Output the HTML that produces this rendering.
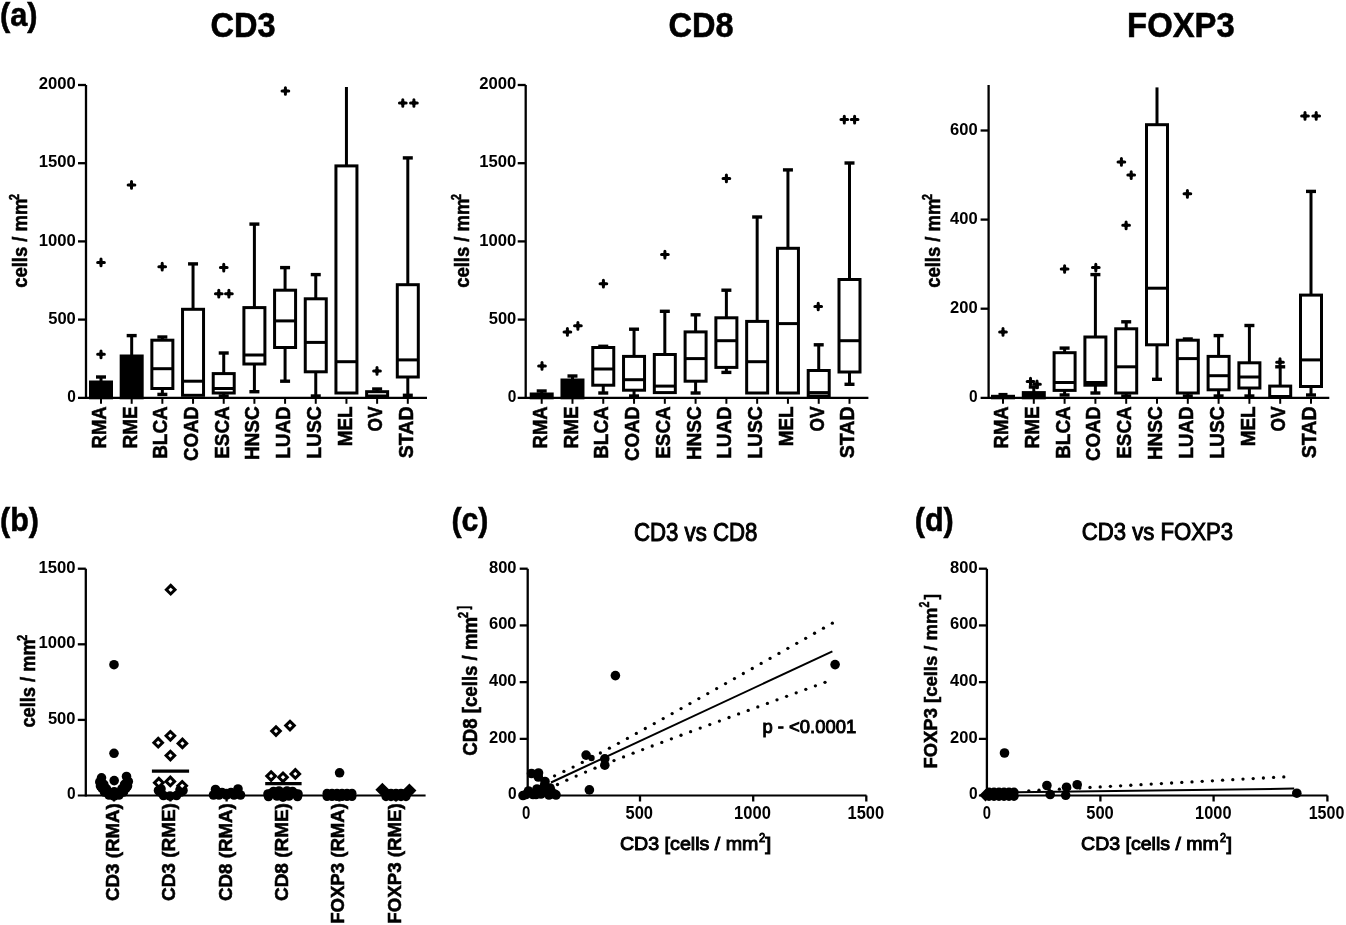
<!DOCTYPE html>
<html><head><meta charset="utf-8"><style>
html,body{margin:0;padding:0;background:#fff;}
svg{display:block;}
#wrap{will-change:transform;width:1346px;height:925px;overflow:hidden;}
text{font-family:"Liberation Sans", sans-serif;fill:#000;stroke:#000;stroke-width:0.55px;}
</style></head><body>
<div id="wrap"><svg width="1346" height="925" viewBox="0 0 1346 925">
<rect width="1346" height="925" fill="#fff"/>
<g stroke="#000" fill="none" stroke-linecap="butt">
<line x1="86.00" y1="85.00" x2="86.00" y2="398.80" stroke-width="2.3"/>
<line x1="78.00" y1="397.80" x2="427.00" y2="397.80" stroke-width="2.2"/>
<line x1="78.00" y1="85.00" x2="86.00" y2="85.00" stroke-width="2.3"/>
<line x1="78.00" y1="163.20" x2="86.00" y2="163.20" stroke-width="2.3"/>
<line x1="78.00" y1="241.40" x2="86.00" y2="241.40" stroke-width="2.3"/>
<line x1="78.00" y1="319.60" x2="86.00" y2="319.60" stroke-width="2.3"/>
<line x1="101.00" y1="397.80" x2="101.00" y2="403.80" stroke-width="2.0"/>
<line x1="131.68" y1="397.80" x2="131.68" y2="403.80" stroke-width="2.0"/>
<line x1="162.36" y1="397.80" x2="162.36" y2="403.80" stroke-width="2.0"/>
<line x1="193.04" y1="397.80" x2="193.04" y2="403.80" stroke-width="2.0"/>
<line x1="223.72" y1="397.80" x2="223.72" y2="403.80" stroke-width="2.0"/>
<line x1="254.40" y1="397.80" x2="254.40" y2="403.80" stroke-width="2.0"/>
<line x1="285.08" y1="397.80" x2="285.08" y2="403.80" stroke-width="2.0"/>
<line x1="315.76" y1="397.80" x2="315.76" y2="403.80" stroke-width="2.0"/>
<line x1="346.44" y1="397.80" x2="346.44" y2="403.80" stroke-width="2.0"/>
<line x1="377.12" y1="397.80" x2="377.12" y2="403.80" stroke-width="2.0"/>
<line x1="407.80" y1="397.80" x2="407.80" y2="403.80" stroke-width="2.0"/>
<line x1="101.00" y1="377.00" x2="101.00" y2="382.00" stroke-width="3.0"/>
<line x1="96.00" y1="377.00" x2="106.00" y2="377.00" stroke-width="3.4"/>
<rect x="90.50" y="382.00" width="21.00" height="15.80" fill="#000" stroke-width="3.0"/>
<path d="M97.65 262.40H104.35M101.00 259.05V265.75" stroke-width="3.0" stroke-linecap="round"/><circle cx="101.00" cy="262.40" r="2.2" fill="#000" stroke="none"/>
<path d="M97.65 354.30H104.35M101.00 350.95V357.65" stroke-width="3.0" stroke-linecap="round"/><circle cx="101.00" cy="354.30" r="2.2" fill="#000" stroke="none"/>
<line x1="131.68" y1="335.60" x2="131.68" y2="356.00" stroke-width="3.0"/>
<line x1="126.68" y1="335.60" x2="136.68" y2="335.60" stroke-width="3.4"/>
<rect x="121.18" y="356.00" width="21.00" height="41.80" fill="#000" stroke-width="3.0"/>
<path d="M128.15 184.90H134.85M131.50 181.55V188.25" stroke-width="3.0" stroke-linecap="round"/><circle cx="131.50" cy="184.90" r="2.2" fill="#000" stroke="none"/>
<line x1="162.36" y1="337.00" x2="162.36" y2="340.20" stroke-width="3.0"/>
<line x1="157.36" y1="337.00" x2="167.36" y2="337.00" stroke-width="3.4"/>
<line x1="162.36" y1="388.50" x2="162.36" y2="394.40" stroke-width="3.0"/>
<line x1="157.36" y1="394.40" x2="167.36" y2="394.40" stroke-width="3.4"/>
<rect x="151.86" y="340.20" width="21.00" height="48.30" fill="none" stroke-width="3.0"/>
<line x1="151.86" y1="368.70" x2="172.86" y2="368.70" stroke-width="3.0"/>
<path d="M158.85 266.70H165.55M162.20 263.35V270.05" stroke-width="3.0" stroke-linecap="round"/><circle cx="162.20" cy="266.70" r="2.2" fill="#000" stroke="none"/>
<line x1="193.04" y1="263.90" x2="193.04" y2="309.30" stroke-width="3.0"/>
<line x1="188.04" y1="263.90" x2="198.04" y2="263.90" stroke-width="3.4"/>
<rect x="182.54" y="309.30" width="21.00" height="86.00" fill="none" stroke-width="3.0"/>
<line x1="182.54" y1="381.20" x2="203.54" y2="381.20" stroke-width="3.0"/>
<line x1="223.72" y1="353.00" x2="223.72" y2="373.60" stroke-width="3.0"/>
<line x1="218.72" y1="353.00" x2="228.72" y2="353.00" stroke-width="3.4"/>
<line x1="223.72" y1="393.00" x2="223.72" y2="396.00" stroke-width="3.0"/>
<line x1="218.72" y1="396.00" x2="228.72" y2="396.00" stroke-width="3.4"/>
<rect x="213.22" y="373.60" width="21.00" height="19.40" fill="none" stroke-width="3.0"/>
<line x1="213.22" y1="388.50" x2="234.22" y2="388.50" stroke-width="3.0"/>
<path d="M220.40 267.60H227.10M223.75 264.25V270.95" stroke-width="3.0" stroke-linecap="round"/><circle cx="223.75" cy="267.60" r="2.2" fill="#000" stroke="none"/>
<path d="M215.45 293.70H222.15M218.80 290.35V297.05" stroke-width="3.0" stroke-linecap="round"/><circle cx="218.80" cy="293.70" r="2.2" fill="#000" stroke="none"/>
<path d="M225.55 293.70H232.25M228.90 290.35V297.05" stroke-width="3.0" stroke-linecap="round"/><circle cx="228.90" cy="293.70" r="2.2" fill="#000" stroke="none"/>
<line x1="254.40" y1="224.10" x2="254.40" y2="307.60" stroke-width="3.0"/>
<line x1="249.40" y1="224.10" x2="259.40" y2="224.10" stroke-width="3.4"/>
<line x1="254.40" y1="364.00" x2="254.40" y2="391.70" stroke-width="3.0"/>
<line x1="249.40" y1="391.70" x2="259.40" y2="391.70" stroke-width="3.4"/>
<rect x="243.90" y="307.60" width="21.00" height="56.40" fill="none" stroke-width="3.0"/>
<line x1="243.90" y1="355.00" x2="264.90" y2="355.00" stroke-width="3.0"/>
<line x1="285.08" y1="267.60" x2="285.08" y2="290.20" stroke-width="3.0"/>
<line x1="280.08" y1="267.60" x2="290.08" y2="267.60" stroke-width="3.4"/>
<line x1="285.08" y1="347.50" x2="285.08" y2="381.20" stroke-width="3.0"/>
<line x1="280.08" y1="381.20" x2="290.08" y2="381.20" stroke-width="3.4"/>
<rect x="274.58" y="290.20" width="21.00" height="57.30" fill="none" stroke-width="3.0"/>
<line x1="274.58" y1="320.90" x2="295.58" y2="320.90" stroke-width="3.0"/>
<path d="M282.05 91.00H288.75M285.40 87.65V94.35" stroke-width="3.0" stroke-linecap="round"/><circle cx="285.40" cy="91.00" r="2.2" fill="#000" stroke="none"/>
<line x1="315.76" y1="274.60" x2="315.76" y2="298.80" stroke-width="3.0"/>
<line x1="310.76" y1="274.60" x2="320.76" y2="274.60" stroke-width="3.4"/>
<line x1="315.76" y1="371.80" x2="315.76" y2="396.00" stroke-width="3.0"/>
<line x1="310.76" y1="396.00" x2="320.76" y2="396.00" stroke-width="3.4"/>
<rect x="305.26" y="298.80" width="21.00" height="73.00" fill="none" stroke-width="3.0"/>
<line x1="305.26" y1="342.40" x2="326.26" y2="342.40" stroke-width="3.0"/>
<line x1="346.44" y1="87.00" x2="346.44" y2="165.90" stroke-width="3.0"/>
<rect x="335.94" y="165.90" width="21.00" height="227.10" fill="none" stroke-width="3.0"/>
<line x1="335.94" y1="361.70" x2="356.94" y2="361.70" stroke-width="3.0"/>
<line x1="377.12" y1="389.00" x2="377.12" y2="391.70" stroke-width="3.0"/>
<line x1="372.12" y1="389.00" x2="382.12" y2="389.00" stroke-width="3.4"/>
<rect x="366.62" y="391.70" width="21.00" height="4.30" fill="none" stroke-width="3.0"/>
<path d="M373.65 370.90H380.35M377.00 367.55V374.25" stroke-width="3.0" stroke-linecap="round"/><circle cx="377.00" cy="370.90" r="2.2" fill="#000" stroke="none"/>
<line x1="407.80" y1="157.90" x2="407.80" y2="284.70" stroke-width="3.0"/>
<line x1="402.80" y1="157.90" x2="412.80" y2="157.90" stroke-width="3.4"/>
<line x1="407.80" y1="377.00" x2="407.80" y2="395.30" stroke-width="3.0"/>
<line x1="402.80" y1="395.30" x2="412.80" y2="395.30" stroke-width="3.4"/>
<rect x="397.30" y="284.70" width="21.00" height="92.30" fill="none" stroke-width="3.0"/>
<line x1="397.30" y1="359.90" x2="418.30" y2="359.90" stroke-width="3.0"/>
<path d="M399.45 103.00H406.15M402.80 99.65V106.35" stroke-width="3.0" stroke-linecap="round"/><circle cx="402.80" cy="103.00" r="2.2" fill="#000" stroke="none"/>
<path d="M410.55 103.00H417.25M413.90 99.65V106.35" stroke-width="3.0" stroke-linecap="round"/><circle cx="413.90" cy="103.00" r="2.2" fill="#000" stroke="none"/>
<line x1="525.70" y1="85.00" x2="525.70" y2="398.80" stroke-width="2.3"/>
<line x1="517.70" y1="397.80" x2="868.40" y2="397.80" stroke-width="2.2"/>
<line x1="517.70" y1="85.00" x2="525.70" y2="85.00" stroke-width="2.3"/>
<line x1="517.70" y1="163.20" x2="525.70" y2="163.20" stroke-width="2.3"/>
<line x1="517.70" y1="241.40" x2="525.70" y2="241.40" stroke-width="2.3"/>
<line x1="517.70" y1="319.60" x2="525.70" y2="319.60" stroke-width="2.3"/>
<line x1="541.70" y1="397.80" x2="541.70" y2="403.80" stroke-width="2.0"/>
<line x1="572.48" y1="397.80" x2="572.48" y2="403.80" stroke-width="2.0"/>
<line x1="603.26" y1="397.80" x2="603.26" y2="403.80" stroke-width="2.0"/>
<line x1="634.04" y1="397.80" x2="634.04" y2="403.80" stroke-width="2.0"/>
<line x1="664.82" y1="397.80" x2="664.82" y2="403.80" stroke-width="2.0"/>
<line x1="695.60" y1="397.80" x2="695.60" y2="403.80" stroke-width="2.0"/>
<line x1="726.38" y1="397.80" x2="726.38" y2="403.80" stroke-width="2.0"/>
<line x1="757.16" y1="397.80" x2="757.16" y2="403.80" stroke-width="2.0"/>
<line x1="787.94" y1="397.80" x2="787.94" y2="403.80" stroke-width="2.0"/>
<line x1="818.72" y1="397.80" x2="818.72" y2="403.80" stroke-width="2.0"/>
<line x1="849.50" y1="397.80" x2="849.50" y2="403.80" stroke-width="2.0"/>
<line x1="541.70" y1="391.00" x2="541.70" y2="394.00" stroke-width="3.0"/>
<line x1="536.70" y1="391.00" x2="546.70" y2="391.00" stroke-width="3.4"/>
<rect x="531.20" y="394.00" width="21.00" height="3.80" fill="#000" stroke-width="3.0"/>
<path d="M538.65 365.90H545.35M542.00 362.55V369.25" stroke-width="3.0" stroke-linecap="round"/><circle cx="542.00" cy="365.90" r="2.2" fill="#000" stroke="none"/>
<line x1="572.48" y1="376.00" x2="572.48" y2="380.00" stroke-width="3.0"/>
<line x1="567.48" y1="376.00" x2="577.48" y2="376.00" stroke-width="3.4"/>
<rect x="561.98" y="380.00" width="21.00" height="17.80" fill="#000" stroke-width="3.0"/>
<path d="M564.05 331.90H570.75M567.40 328.55V335.25" stroke-width="3.0" stroke-linecap="round"/><circle cx="567.40" cy="331.90" r="2.2" fill="#000" stroke="none"/>
<path d="M574.55 325.80H581.25M577.90 322.45V329.15" stroke-width="3.0" stroke-linecap="round"/><circle cx="577.90" cy="325.80" r="2.2" fill="#000" stroke="none"/>
<line x1="603.26" y1="346.30" x2="603.26" y2="347.50" stroke-width="3.0"/>
<line x1="598.26" y1="346.30" x2="608.26" y2="346.30" stroke-width="3.4"/>
<line x1="603.26" y1="385.20" x2="603.26" y2="393.00" stroke-width="3.0"/>
<line x1="598.26" y1="393.00" x2="608.26" y2="393.00" stroke-width="3.4"/>
<rect x="592.76" y="347.50" width="21.00" height="37.70" fill="none" stroke-width="3.0"/>
<line x1="592.76" y1="369.00" x2="613.76" y2="369.00" stroke-width="3.0"/>
<path d="M600.05 283.70H606.75M603.40 280.35V287.05" stroke-width="3.0" stroke-linecap="round"/><circle cx="603.40" cy="283.70" r="2.2" fill="#000" stroke="none"/>
<line x1="634.04" y1="329.20" x2="634.04" y2="356.40" stroke-width="3.0"/>
<line x1="629.04" y1="329.20" x2="639.04" y2="329.20" stroke-width="3.4"/>
<line x1="634.04" y1="390.20" x2="634.04" y2="396.00" stroke-width="3.0"/>
<line x1="629.04" y1="396.00" x2="639.04" y2="396.00" stroke-width="3.4"/>
<rect x="623.54" y="356.40" width="21.00" height="33.80" fill="none" stroke-width="3.0"/>
<line x1="623.54" y1="379.70" x2="644.54" y2="379.70" stroke-width="3.0"/>
<line x1="664.82" y1="311.30" x2="664.82" y2="354.50" stroke-width="3.0"/>
<line x1="659.82" y1="311.30" x2="669.82" y2="311.30" stroke-width="3.4"/>
<rect x="654.32" y="354.50" width="21.00" height="38.10" fill="none" stroke-width="3.0"/>
<line x1="654.32" y1="386.10" x2="675.32" y2="386.10" stroke-width="3.0"/>
<path d="M661.55 254.60H668.25M664.90 251.25V257.95" stroke-width="3.0" stroke-linecap="round"/><circle cx="664.90" cy="254.60" r="2.2" fill="#000" stroke="none"/>
<line x1="695.60" y1="314.80" x2="695.60" y2="331.90" stroke-width="3.0"/>
<line x1="690.60" y1="314.80" x2="700.60" y2="314.80" stroke-width="3.4"/>
<line x1="695.60" y1="381.20" x2="695.60" y2="393.00" stroke-width="3.0"/>
<line x1="690.60" y1="393.00" x2="700.60" y2="393.00" stroke-width="3.4"/>
<rect x="685.10" y="331.90" width="21.00" height="49.30" fill="none" stroke-width="3.0"/>
<line x1="685.10" y1="358.60" x2="706.10" y2="358.60" stroke-width="3.0"/>
<line x1="726.38" y1="290.20" x2="726.38" y2="317.80" stroke-width="3.0"/>
<line x1="721.38" y1="290.20" x2="731.38" y2="290.20" stroke-width="3.4"/>
<line x1="726.38" y1="367.40" x2="726.38" y2="372.40" stroke-width="3.0"/>
<line x1="721.38" y1="372.40" x2="731.38" y2="372.40" stroke-width="3.4"/>
<rect x="715.88" y="317.80" width="21.00" height="49.60" fill="none" stroke-width="3.0"/>
<line x1="715.88" y1="340.70" x2="736.88" y2="340.70" stroke-width="3.0"/>
<path d="M723.05 178.40H729.75M726.40 175.05V181.75" stroke-width="3.0" stroke-linecap="round"/><circle cx="726.40" cy="178.40" r="2.2" fill="#000" stroke="none"/>
<line x1="757.16" y1="217.00" x2="757.16" y2="321.40" stroke-width="3.0"/>
<line x1="752.16" y1="217.00" x2="762.16" y2="217.00" stroke-width="3.4"/>
<rect x="746.66" y="321.40" width="21.00" height="71.60" fill="none" stroke-width="3.0"/>
<line x1="746.66" y1="361.70" x2="767.66" y2="361.70" stroke-width="3.0"/>
<line x1="787.94" y1="169.90" x2="787.94" y2="248.30" stroke-width="3.0"/>
<line x1="782.94" y1="169.90" x2="792.94" y2="169.90" stroke-width="3.4"/>
<rect x="777.44" y="248.30" width="21.00" height="144.70" fill="none" stroke-width="3.0"/>
<line x1="777.44" y1="323.60" x2="798.44" y2="323.60" stroke-width="3.0"/>
<line x1="818.72" y1="344.80" x2="818.72" y2="370.50" stroke-width="3.0"/>
<line x1="813.72" y1="344.80" x2="823.72" y2="344.80" stroke-width="3.4"/>
<rect x="808.22" y="370.50" width="21.00" height="25.50" fill="none" stroke-width="3.0"/>
<line x1="808.22" y1="392.60" x2="829.22" y2="392.60" stroke-width="3.0"/>
<path d="M814.85 306.50H821.55M818.20 303.15V309.85" stroke-width="3.0" stroke-linecap="round"/><circle cx="818.20" cy="306.50" r="2.2" fill="#000" stroke="none"/>
<line x1="849.50" y1="163.00" x2="849.50" y2="279.50" stroke-width="3.0"/>
<line x1="844.50" y1="163.00" x2="854.50" y2="163.00" stroke-width="3.4"/>
<line x1="849.50" y1="372.00" x2="849.50" y2="384.30" stroke-width="3.0"/>
<line x1="844.50" y1="384.30" x2="854.50" y2="384.30" stroke-width="3.4"/>
<rect x="839.00" y="279.50" width="21.00" height="92.50" fill="none" stroke-width="3.0"/>
<line x1="839.00" y1="340.70" x2="860.00" y2="340.70" stroke-width="3.0"/>
<path d="M840.95 119.60H847.65M844.30 116.25V122.95" stroke-width="3.0" stroke-linecap="round"/><circle cx="844.30" cy="119.60" r="2.2" fill="#000" stroke="none"/>
<path d="M851.25 119.60H857.95M854.60 116.25V122.95" stroke-width="3.0" stroke-linecap="round"/><circle cx="854.60" cy="119.60" r="2.2" fill="#000" stroke="none"/>
<line x1="988.60" y1="85.00" x2="988.60" y2="398.80" stroke-width="2.3"/>
<line x1="980.60" y1="397.80" x2="1329.30" y2="397.80" stroke-width="2.2"/>
<line x1="980.60" y1="130.50" x2="988.60" y2="130.50" stroke-width="2.3"/>
<line x1="980.60" y1="219.60" x2="988.60" y2="219.60" stroke-width="2.3"/>
<line x1="980.60" y1="308.70" x2="988.60" y2="308.70" stroke-width="2.3"/>
<line x1="1003.00" y1="397.80" x2="1003.00" y2="403.80" stroke-width="2.0"/>
<line x1="1033.80" y1="397.80" x2="1033.80" y2="403.80" stroke-width="2.0"/>
<line x1="1064.60" y1="397.80" x2="1064.60" y2="403.80" stroke-width="2.0"/>
<line x1="1095.40" y1="397.80" x2="1095.40" y2="403.80" stroke-width="2.0"/>
<line x1="1126.20" y1="397.80" x2="1126.20" y2="403.80" stroke-width="2.0"/>
<line x1="1157.00" y1="397.80" x2="1157.00" y2="403.80" stroke-width="2.0"/>
<line x1="1187.80" y1="397.80" x2="1187.80" y2="403.80" stroke-width="2.0"/>
<line x1="1218.60" y1="397.80" x2="1218.60" y2="403.80" stroke-width="2.0"/>
<line x1="1249.40" y1="397.80" x2="1249.40" y2="403.80" stroke-width="2.0"/>
<line x1="1280.20" y1="397.80" x2="1280.20" y2="403.80" stroke-width="2.0"/>
<line x1="1311.00" y1="397.80" x2="1311.00" y2="403.80" stroke-width="2.0"/>
<line x1="1003.00" y1="394.60" x2="1003.00" y2="396.30" stroke-width="3.0"/>
<line x1="998.50" y1="394.60" x2="1007.50" y2="394.60" stroke-width="3.4"/>
<rect x="992.50" y="396.30" width="21.00" height="1.50" fill="#000" stroke-width="3.0"/>
<path d="M999.65 331.90H1006.35M1003.00 328.55V335.25" stroke-width="3.0" stroke-linecap="round"/><circle cx="1003.00" cy="331.90" r="2.2" fill="#000" stroke="none"/>
<line x1="1033.80" y1="387.00" x2="1033.80" y2="392.60" stroke-width="3.0"/>
<line x1="1028.80" y1="387.00" x2="1038.80" y2="387.00" stroke-width="3.4"/>
<rect x="1023.30" y="392.60" width="21.00" height="5.20" fill="#000" stroke-width="3.0"/>
<path d="M1027.15 381.50H1033.85M1030.50 378.15V384.85" stroke-width="3.0" stroke-linecap="round"/><circle cx="1030.50" cy="381.50" r="2.2" fill="#000" stroke="none"/>
<path d="M1033.65 384.30H1040.35M1037.00 380.95V387.65" stroke-width="3.0" stroke-linecap="round"/><circle cx="1037.00" cy="384.30" r="2.2" fill="#000" stroke="none"/>
<line x1="1064.60" y1="348.10" x2="1064.60" y2="352.70" stroke-width="3.0"/>
<line x1="1059.60" y1="348.10" x2="1069.60" y2="348.10" stroke-width="3.4"/>
<line x1="1064.60" y1="390.40" x2="1064.60" y2="395.00" stroke-width="3.0"/>
<line x1="1059.60" y1="395.00" x2="1069.60" y2="395.00" stroke-width="3.4"/>
<rect x="1054.10" y="352.70" width="21.00" height="37.70" fill="none" stroke-width="3.0"/>
<line x1="1054.10" y1="382.50" x2="1075.10" y2="382.50" stroke-width="3.0"/>
<path d="M1061.25 269.00H1067.95M1064.60 265.65V272.35" stroke-width="3.0" stroke-linecap="round"/><circle cx="1064.60" cy="269.00" r="2.2" fill="#000" stroke="none"/>
<line x1="1095.40" y1="274.60" x2="1095.40" y2="337.00" stroke-width="3.0"/>
<line x1="1090.40" y1="274.60" x2="1100.40" y2="274.60" stroke-width="3.4"/>
<line x1="1095.40" y1="385.20" x2="1095.40" y2="393.00" stroke-width="3.0"/>
<line x1="1090.40" y1="393.00" x2="1100.40" y2="393.00" stroke-width="3.4"/>
<rect x="1084.90" y="337.00" width="21.00" height="48.20" fill="none" stroke-width="3.0"/>
<line x1="1084.90" y1="382.50" x2="1105.90" y2="382.50" stroke-width="3.0"/>
<path d="M1092.45 267.60H1099.15M1095.80 264.25V270.95" stroke-width="3.0" stroke-linecap="round"/><circle cx="1095.80" cy="267.60" r="2.2" fill="#000" stroke="none"/>
<line x1="1126.20" y1="321.80" x2="1126.20" y2="328.80" stroke-width="3.0"/>
<line x1="1121.20" y1="321.80" x2="1131.20" y2="321.80" stroke-width="3.4"/>
<line x1="1126.20" y1="393.00" x2="1126.20" y2="396.00" stroke-width="3.0"/>
<line x1="1121.20" y1="396.00" x2="1131.20" y2="396.00" stroke-width="3.4"/>
<rect x="1115.70" y="328.80" width="21.00" height="64.20" fill="none" stroke-width="3.0"/>
<line x1="1115.70" y1="366.80" x2="1136.70" y2="366.80" stroke-width="3.0"/>
<path d="M1118.05 161.90H1124.75M1121.40 158.55V165.25" stroke-width="3.0" stroke-linecap="round"/><circle cx="1121.40" cy="161.90" r="2.2" fill="#000" stroke="none"/>
<path d="M1127.85 175.10H1134.55M1131.20 171.75V178.45" stroke-width="3.0" stroke-linecap="round"/><circle cx="1131.20" cy="175.10" r="2.2" fill="#000" stroke="none"/>
<path d="M1122.75 225.30H1129.45M1126.10 221.95V228.65" stroke-width="3.0" stroke-linecap="round"/><circle cx="1126.10" cy="225.30" r="2.2" fill="#000" stroke="none"/>
<line x1="1157.00" y1="87.40" x2="1157.00" y2="124.70" stroke-width="3.0"/>
<line x1="1157.00" y1="344.80" x2="1157.00" y2="379.30" stroke-width="3.0"/>
<line x1="1152.00" y1="379.30" x2="1162.00" y2="379.30" stroke-width="3.4"/>
<rect x="1146.50" y="124.70" width="21.00" height="220.10" fill="none" stroke-width="3.0"/>
<line x1="1146.50" y1="288.20" x2="1167.50" y2="288.20" stroke-width="3.0"/>
<line x1="1187.80" y1="339.00" x2="1187.80" y2="340.20" stroke-width="3.0"/>
<line x1="1182.80" y1="339.00" x2="1192.80" y2="339.00" stroke-width="3.4"/>
<line x1="1187.80" y1="393.00" x2="1187.80" y2="396.00" stroke-width="3.0"/>
<line x1="1182.80" y1="396.00" x2="1192.80" y2="396.00" stroke-width="3.4"/>
<rect x="1177.30" y="340.20" width="21.00" height="52.80" fill="none" stroke-width="3.0"/>
<line x1="1177.30" y1="358.60" x2="1198.30" y2="358.60" stroke-width="3.0"/>
<path d="M1184.05 193.80H1190.75M1187.40 190.45V197.15" stroke-width="3.0" stroke-linecap="round"/><circle cx="1187.40" cy="193.80" r="2.2" fill="#000" stroke="none"/>
<line x1="1218.60" y1="335.60" x2="1218.60" y2="356.40" stroke-width="3.0"/>
<line x1="1213.60" y1="335.60" x2="1223.60" y2="335.60" stroke-width="3.4"/>
<line x1="1218.60" y1="389.80" x2="1218.60" y2="396.00" stroke-width="3.0"/>
<line x1="1213.60" y1="396.00" x2="1223.60" y2="396.00" stroke-width="3.4"/>
<rect x="1208.10" y="356.40" width="21.00" height="33.40" fill="none" stroke-width="3.0"/>
<line x1="1208.10" y1="375.70" x2="1229.10" y2="375.70" stroke-width="3.0"/>
<line x1="1249.40" y1="325.50" x2="1249.40" y2="362.80" stroke-width="3.0"/>
<line x1="1244.40" y1="325.50" x2="1254.40" y2="325.50" stroke-width="3.4"/>
<line x1="1249.40" y1="388.00" x2="1249.40" y2="396.00" stroke-width="3.0"/>
<line x1="1244.40" y1="396.00" x2="1254.40" y2="396.00" stroke-width="3.4"/>
<rect x="1238.90" y="362.80" width="21.00" height="25.20" fill="none" stroke-width="3.0"/>
<line x1="1238.90" y1="377.00" x2="1259.90" y2="377.00" stroke-width="3.0"/>
<line x1="1280.20" y1="366.80" x2="1280.20" y2="386.10" stroke-width="3.0"/>
<line x1="1275.20" y1="366.80" x2="1285.20" y2="366.80" stroke-width="3.4"/>
<rect x="1269.70" y="386.10" width="21.00" height="10.40" fill="none" stroke-width="3.0"/>
<path d="M1276.65 362.20H1283.35M1280.00 358.85V365.55" stroke-width="3.0" stroke-linecap="round"/><circle cx="1280.00" cy="362.20" r="2.2" fill="#000" stroke="none"/>
<line x1="1311.00" y1="191.40" x2="1311.00" y2="295.10" stroke-width="3.0"/>
<line x1="1306.00" y1="191.40" x2="1316.00" y2="191.40" stroke-width="3.4"/>
<line x1="1311.00" y1="386.50" x2="1311.00" y2="395.00" stroke-width="3.0"/>
<line x1="1306.00" y1="395.00" x2="1316.00" y2="395.00" stroke-width="3.4"/>
<rect x="1300.50" y="295.10" width="21.00" height="91.40" fill="none" stroke-width="3.0"/>
<line x1="1300.50" y1="359.90" x2="1321.50" y2="359.90" stroke-width="3.0"/>
<path d="M1301.65 115.90H1308.35M1305.00 112.55V119.25" stroke-width="3.0" stroke-linecap="round"/><circle cx="1305.00" cy="115.90" r="2.2" fill="#000" stroke="none"/>
<path d="M1312.85 115.90H1319.55M1316.20 112.55V119.25" stroke-width="3.0" stroke-linecap="round"/><circle cx="1316.20" cy="115.90" r="2.2" fill="#000" stroke="none"/>
<line x1="85.80" y1="568.70" x2="85.80" y2="796.50" stroke-width="2.3"/>
<line x1="77.80" y1="795.50" x2="425.60" y2="795.50" stroke-width="2.2"/>
<line x1="77.80" y1="568.70" x2="85.80" y2="568.70" stroke-width="2.3"/>
<line x1="77.80" y1="644.30" x2="85.80" y2="644.30" stroke-width="2.3"/>
<line x1="77.80" y1="719.90" x2="85.80" y2="719.90" stroke-width="2.3"/>
<line x1="114.00" y1="795.50" x2="114.00" y2="801.50" stroke-width="2.3"/>
<line x1="170.40" y1="795.50" x2="170.40" y2="801.50" stroke-width="2.3"/>
<line x1="226.60" y1="795.50" x2="226.60" y2="801.50" stroke-width="2.3"/>
<line x1="283.00" y1="795.50" x2="283.00" y2="801.50" stroke-width="2.3"/>
<line x1="339.40" y1="795.50" x2="339.40" y2="801.50" stroke-width="2.3"/>
<line x1="396.00" y1="795.50" x2="396.00" y2="801.50" stroke-width="2.3"/>
<circle cx="114.00" cy="664.70" r="4.8" fill="#000" stroke="none"/>
<circle cx="114.00" cy="753.30" r="4.8" fill="#000" stroke="none"/>
<circle cx="101.50" cy="777.80" r="4.8" fill="#000" stroke="none"/>
<circle cx="99.80" cy="782.00" r="4.8" fill="#000" stroke="none"/>
<circle cx="102.00" cy="788.00" r="4.8" fill="#000" stroke="none"/>
<circle cx="126.50" cy="776.50" r="4.8" fill="#000" stroke="none"/>
<circle cx="128.30" cy="781.50" r="4.8" fill="#000" stroke="none"/>
<circle cx="126.00" cy="788.00" r="4.8" fill="#000" stroke="none"/>
<circle cx="114.20" cy="780.60" r="4.8" fill="#000" stroke="none"/>
<circle cx="114.20" cy="791.70" r="4.8" fill="#000" stroke="none"/>
<circle cx="106.50" cy="788.80" r="4.8" fill="#000" stroke="none"/>
<circle cx="121.90" cy="788.80" r="4.8" fill="#000" stroke="none"/>
<circle cx="103.80" cy="784.40" r="4.8" fill="#000" stroke="none"/>
<circle cx="124.60" cy="784.40" r="4.8" fill="#000" stroke="none"/>
<circle cx="114.00" cy="796.00" r="4.8" fill="#000" stroke="none"/>
<circle cx="109.00" cy="795.00" r="4.8" fill="#000" stroke="none"/>
<circle cx="119.00" cy="795.00" r="4.8" fill="#000" stroke="none"/>
<circle cx="104.50" cy="792.00" r="4.8" fill="#000" stroke="none"/>
<circle cx="123.50" cy="792.00" r="4.8" fill="#000" stroke="none"/>
<circle cx="100.50" cy="786.00" r="4.8" fill="#000" stroke="none"/>
<circle cx="127.50" cy="786.00" r="4.8" fill="#000" stroke="none"/>
<path d="M170.70 585.40L175.00 589.70L170.70 594.00L166.40 589.70Z" fill="#fff" stroke-width="3.0" stroke-linejoin="miter"/>
<path d="M158.20 738.40L162.50 742.70L158.20 747.00L153.90 742.70Z" fill="#fff" stroke-width="3.0" stroke-linejoin="miter"/>
<path d="M170.40 731.50L174.70 735.80L170.40 740.10L166.10 735.80Z" fill="#fff" stroke-width="3.0" stroke-linejoin="miter"/>
<path d="M182.40 739.10L186.70 743.40L182.40 747.70L178.10 743.40Z" fill="#fff" stroke-width="3.0" stroke-linejoin="miter"/>
<path d="M170.40 751.30L174.70 755.60L170.40 759.90L166.10 755.60Z" fill="#fff" stroke-width="3.0" stroke-linejoin="miter"/>
<circle cx="160.00" cy="792.00" r="4.8" fill="#000" stroke="none"/>
<circle cx="163.50" cy="795.50" r="4.8" fill="#000" stroke="none"/>
<circle cx="170.00" cy="796.00" r="4.8" fill="#000" stroke="none"/>
<circle cx="176.50" cy="795.50" r="4.8" fill="#000" stroke="none"/>
<circle cx="181.00" cy="792.00" r="4.8" fill="#000" stroke="none"/>
<circle cx="161.00" cy="789.00" r="4.8" fill="#000" stroke="none"/>
<circle cx="180.00" cy="790.00" r="4.8" fill="#000" stroke="none"/>
<circle cx="158.50" cy="790.50" r="4.8" fill="#000" stroke="none"/>
<circle cx="183.00" cy="790.50" r="4.8" fill="#000" stroke="none"/>
<path d="M158.80 778.40L163.10 782.70L158.80 787.00L154.50 782.70Z" fill="#fff" stroke-width="3.0" stroke-linejoin="miter"/>
<path d="M170.30 777.10L174.60 781.40L170.30 785.70L166.00 781.40Z" fill="#fff" stroke-width="3.0" stroke-linejoin="miter"/>
<path d="M182.20 781.50L186.50 785.80L182.20 790.10L177.90 785.80Z" fill="#fff" stroke-width="3.0" stroke-linejoin="miter"/>
<line x1="151.90" y1="771.10" x2="189.10" y2="771.10" stroke-width="3.3"/>
<circle cx="215.50" cy="789.50" r="4.8" fill="#000" stroke="none"/>
<circle cx="238.00" cy="789.00" r="4.8" fill="#000" stroke="none"/>
<circle cx="213.50" cy="795.00" r="4.8" fill="#000" stroke="none"/>
<circle cx="219.00" cy="795.00" r="4.8" fill="#000" stroke="none"/>
<circle cx="226.50" cy="795.00" r="4.8" fill="#000" stroke="none"/>
<circle cx="234.00" cy="795.00" r="4.8" fill="#000" stroke="none"/>
<circle cx="240.50" cy="795.00" r="4.8" fill="#000" stroke="none"/>
<circle cx="226.50" cy="793.50" r="4.8" fill="#000" stroke="none"/>
<circle cx="222.00" cy="792.50" r="4.8" fill="#000" stroke="none"/>
<circle cx="231.00" cy="792.50" r="4.8" fill="#000" stroke="none"/>
<path d="M276.00 726.80L280.30 731.10L276.00 735.40L271.70 731.10Z" fill="#fff" stroke-width="3.0" stroke-linejoin="miter"/>
<path d="M290.00 721.30L294.30 725.60L290.00 729.90L285.70 725.60Z" fill="#fff" stroke-width="3.0" stroke-linejoin="miter"/>
<circle cx="271.00" cy="793.50" r="4.8" fill="#000" stroke="none"/>
<circle cx="277.00" cy="796.00" r="4.8" fill="#000" stroke="none"/>
<circle cx="283.00" cy="797.00" r="4.8" fill="#000" stroke="none"/>
<circle cx="289.00" cy="796.00" r="4.8" fill="#000" stroke="none"/>
<circle cx="295.00" cy="793.50" r="4.8" fill="#000" stroke="none"/>
<circle cx="268.50" cy="796.50" r="4.8" fill="#000" stroke="none"/>
<circle cx="297.50" cy="796.50" r="4.8" fill="#000" stroke="none"/>
<circle cx="273.50" cy="791.50" r="4.8" fill="#000" stroke="none"/>
<circle cx="292.50" cy="791.50" r="4.8" fill="#000" stroke="none"/>
<circle cx="268.00" cy="794.00" r="4.8" fill="#000" stroke="none"/>
<circle cx="298.00" cy="794.00" r="4.8" fill="#000" stroke="none"/>
<circle cx="279.00" cy="791.00" r="4.8" fill="#000" stroke="none"/>
<circle cx="287.00" cy="791.00" r="4.8" fill="#000" stroke="none"/>
<path d="M271.10 771.80L275.40 776.10L271.10 780.40L266.80 776.10Z" fill="#fff" stroke-width="3.0" stroke-linejoin="miter"/>
<path d="M283.00 773.00L287.30 777.30L283.00 781.60L278.70 777.30Z" fill="#fff" stroke-width="3.0" stroke-linejoin="miter"/>
<path d="M295.30 769.60L299.60 773.90L295.30 778.20L291.00 773.90Z" fill="#fff" stroke-width="3.0" stroke-linejoin="miter"/>
<line x1="265.20" y1="783.60" x2="301.60" y2="783.60" stroke-width="3.2"/>
<circle cx="339.60" cy="772.80" r="4.8" fill="#000" stroke="none"/>
<circle cx="327.00" cy="793.20" r="4.5" fill="#000" stroke="none"/>
<circle cx="327.00" cy="796.50" r="4.5" fill="#000" stroke="none"/>
<circle cx="332.00" cy="793.20" r="4.5" fill="#000" stroke="none"/>
<circle cx="332.00" cy="796.50" r="4.5" fill="#000" stroke="none"/>
<circle cx="337.00" cy="793.20" r="4.5" fill="#000" stroke="none"/>
<circle cx="337.00" cy="796.50" r="4.5" fill="#000" stroke="none"/>
<circle cx="342.00" cy="793.20" r="4.5" fill="#000" stroke="none"/>
<circle cx="342.00" cy="796.50" r="4.5" fill="#000" stroke="none"/>
<circle cx="347.00" cy="793.20" r="4.5" fill="#000" stroke="none"/>
<circle cx="347.00" cy="796.50" r="4.5" fill="#000" stroke="none"/>
<circle cx="352.00" cy="793.20" r="4.5" fill="#000" stroke="none"/>
<circle cx="352.00" cy="796.50" r="4.5" fill="#000" stroke="none"/>
<circle cx="386.00" cy="793.30" r="4.6" fill="#000" stroke="none"/>
<circle cx="386.00" cy="796.60" r="4.6" fill="#000" stroke="none"/>
<circle cx="391.00" cy="793.30" r="4.6" fill="#000" stroke="none"/>
<circle cx="391.00" cy="796.60" r="4.6" fill="#000" stroke="none"/>
<circle cx="396.00" cy="793.30" r="4.6" fill="#000" stroke="none"/>
<circle cx="396.00" cy="796.60" r="4.6" fill="#000" stroke="none"/>
<circle cx="401.00" cy="793.30" r="4.6" fill="#000" stroke="none"/>
<circle cx="401.00" cy="796.60" r="4.6" fill="#000" stroke="none"/>
<circle cx="406.00" cy="793.30" r="4.6" fill="#000" stroke="none"/>
<circle cx="406.00" cy="796.60" r="4.6" fill="#000" stroke="none"/>
<path d="M382.40 784.60L387.60 789.80L382.40 795.00L377.20 789.80Z" fill="#000" stroke-width="2.6" stroke-linejoin="miter"/>
<path d="M409.40 785.40L414.60 790.60L409.40 795.80L404.20 790.60Z" fill="#000" stroke-width="2.6" stroke-linejoin="miter"/>
<line x1="527.70" y1="568.80" x2="527.70" y2="796.50" stroke-width="2.3"/>
<line x1="519.70" y1="795.50" x2="866.50" y2="795.50" stroke-width="2.2"/>
<line x1="519.70" y1="568.70" x2="527.70" y2="568.70" stroke-width="2.3"/>
<line x1="519.70" y1="625.42" x2="527.70" y2="625.42" stroke-width="2.3"/>
<line x1="519.70" y1="682.15" x2="527.70" y2="682.15" stroke-width="2.3"/>
<line x1="519.70" y1="738.88" x2="527.70" y2="738.88" stroke-width="2.3"/>
<line x1="640.00" y1="795.50" x2="640.00" y2="801.50" stroke-width="2.3"/>
<line x1="753.20" y1="795.50" x2="753.20" y2="801.50" stroke-width="2.3"/>
<line x1="866.30" y1="795.50" x2="866.30" y2="801.50" stroke-width="2.3"/>
<line x1="551.00" y1="782.50" x2="832.40" y2="651.37" stroke-width="2.0"/>
<circle cx="554.60" cy="775.79" r="1.65" fill="#000" stroke="none"/>
<circle cx="563.90" cy="771.47" r="1.65" fill="#000" stroke="none"/>
<circle cx="573.10" cy="767.03" r="1.65" fill="#000" stroke="none"/>
<circle cx="582.25" cy="762.45" r="1.65" fill="#000" stroke="none"/>
<circle cx="591.35" cy="757.76" r="1.65" fill="#000" stroke="none"/>
<circle cx="600.40" cy="753.00" r="1.65" fill="#000" stroke="none"/>
<circle cx="609.40" cy="748.19" r="1.65" fill="#000" stroke="none"/>
<circle cx="618.40" cy="743.32" r="1.65" fill="#000" stroke="none"/>
<circle cx="627.40" cy="738.40" r="1.65" fill="#000" stroke="none"/>
<circle cx="636.35" cy="733.47" r="1.65" fill="#000" stroke="none"/>
<circle cx="645.30" cy="728.52" r="1.65" fill="#000" stroke="none"/>
<circle cx="654.25" cy="723.55" r="1.65" fill="#000" stroke="none"/>
<circle cx="663.20" cy="718.56" r="1.65" fill="#000" stroke="none"/>
<circle cx="672.15" cy="713.56" r="1.65" fill="#000" stroke="none"/>
<circle cx="681.05" cy="708.58" r="1.65" fill="#000" stroke="none"/>
<circle cx="689.95" cy="703.59" r="1.65" fill="#000" stroke="none"/>
<circle cx="698.85" cy="698.59" r="1.65" fill="#000" stroke="none"/>
<circle cx="707.75" cy="693.58" r="1.65" fill="#000" stroke="none"/>
<circle cx="716.65" cy="688.57" r="1.65" fill="#000" stroke="none"/>
<circle cx="725.55" cy="683.55" r="1.65" fill="#000" stroke="none"/>
<circle cx="734.45" cy="678.53" r="1.65" fill="#000" stroke="none"/>
<circle cx="743.35" cy="673.51" r="1.65" fill="#000" stroke="none"/>
<circle cx="752.25" cy="668.48" r="1.65" fill="#000" stroke="none"/>
<circle cx="761.15" cy="663.46" r="1.65" fill="#000" stroke="none"/>
<circle cx="770.05" cy="658.43" r="1.65" fill="#000" stroke="none"/>
<circle cx="778.95" cy="653.39" r="1.65" fill="#000" stroke="none"/>
<circle cx="787.85" cy="648.36" r="1.65" fill="#000" stroke="none"/>
<circle cx="796.75" cy="643.32" r="1.65" fill="#000" stroke="none"/>
<circle cx="805.65" cy="638.29" r="1.65" fill="#000" stroke="none"/>
<circle cx="814.55" cy="633.25" r="1.65" fill="#000" stroke="none"/>
<circle cx="823.45" cy="628.21" r="1.65" fill="#000" stroke="none"/>
<circle cx="832.35" cy="623.17" r="1.65" fill="#000" stroke="none"/>
<circle cx="557.50" cy="784.48" r="1.65" fill="#000" stroke="none"/>
<circle cx="566.80" cy="780.19" r="1.65" fill="#000" stroke="none"/>
<circle cx="576.15" cy="776.04" r="1.65" fill="#000" stroke="none"/>
<circle cx="585.55" cy="772.04" r="1.65" fill="#000" stroke="none"/>
<circle cx="595.00" cy="768.14" r="1.65" fill="#000" stroke="none"/>
<circle cx="604.50" cy="764.32" r="1.65" fill="#000" stroke="none"/>
<circle cx="614.00" cy="760.58" r="1.65" fill="#000" stroke="none"/>
<circle cx="623.55" cy="756.88" r="1.65" fill="#000" stroke="none"/>
<circle cx="633.10" cy="753.22" r="1.65" fill="#000" stroke="none"/>
<circle cx="642.65" cy="749.59" r="1.65" fill="#000" stroke="none"/>
<circle cx="652.20" cy="745.99" r="1.65" fill="#000" stroke="none"/>
<circle cx="661.80" cy="742.39" r="1.65" fill="#000" stroke="none"/>
<circle cx="671.40" cy="738.81" r="1.65" fill="#000" stroke="none"/>
<circle cx="681.00" cy="735.23" r="1.65" fill="#000" stroke="none"/>
<circle cx="690.60" cy="731.67" r="1.65" fill="#000" stroke="none"/>
<circle cx="700.20" cy="728.12" r="1.65" fill="#000" stroke="none"/>
<circle cx="709.80" cy="724.57" r="1.65" fill="#000" stroke="none"/>
<circle cx="719.40" cy="721.03" r="1.65" fill="#000" stroke="none"/>
<circle cx="729.00" cy="717.50" r="1.65" fill="#000" stroke="none"/>
<circle cx="738.60" cy="713.97" r="1.65" fill="#000" stroke="none"/>
<circle cx="748.20" cy="710.44" r="1.65" fill="#000" stroke="none"/>
<circle cx="757.80" cy="706.91" r="1.65" fill="#000" stroke="none"/>
<circle cx="767.40" cy="703.39" r="1.65" fill="#000" stroke="none"/>
<circle cx="777.00" cy="699.87" r="1.65" fill="#000" stroke="none"/>
<circle cx="786.60" cy="696.35" r="1.65" fill="#000" stroke="none"/>
<circle cx="796.20" cy="692.84" r="1.65" fill="#000" stroke="none"/>
<circle cx="805.80" cy="689.32" r="1.65" fill="#000" stroke="none"/>
<circle cx="815.40" cy="685.81" r="1.65" fill="#000" stroke="none"/>
<circle cx="825.00" cy="682.30" r="1.65" fill="#000" stroke="none"/>
<circle cx="591.50" cy="758.00" r="3.2" fill="#000" stroke="none"/>
<circle cx="615.40" cy="675.60" r="4.8" fill="#000" stroke="none"/>
<circle cx="586.10" cy="755.10" r="4.8" fill="#000" stroke="none"/>
<circle cx="604.80" cy="758.80" r="4.8" fill="#000" stroke="none"/>
<circle cx="604.80" cy="765.20" r="4.8" fill="#000" stroke="none"/>
<circle cx="589.40" cy="789.90" r="4.8" fill="#000" stroke="none"/>
<circle cx="835.10" cy="664.60" r="4.8" fill="#000" stroke="none"/>
<circle cx="531.50" cy="773.50" r="4.8" fill="#000" stroke="none"/>
<circle cx="538.50" cy="773.00" r="4.8" fill="#000" stroke="none"/>
<circle cx="545.00" cy="781.50" r="4.8" fill="#000" stroke="none"/>
<circle cx="544.50" cy="785.50" r="4.8" fill="#000" stroke="none"/>
<circle cx="550.00" cy="788.00" r="4.8" fill="#000" stroke="none"/>
<circle cx="554.50" cy="794.00" r="4.8" fill="#000" stroke="none"/>
<circle cx="549.00" cy="795.00" r="4.8" fill="#000" stroke="none"/>
<circle cx="541.00" cy="794.00" r="4.8" fill="#000" stroke="none"/>
<circle cx="533.00" cy="794.50" r="4.8" fill="#000" stroke="none"/>
<circle cx="526.00" cy="794.50" r="4.8" fill="#000" stroke="none"/>
<circle cx="537.00" cy="789.00" r="4.8" fill="#000" stroke="none"/>
<circle cx="528.50" cy="791.00" r="4.8" fill="#000" stroke="none"/>
<circle cx="538.30" cy="777.00" r="4.8" fill="#000" stroke="none"/>
<circle cx="556.00" cy="795.00" r="4.8" fill="#000" stroke="none"/>
<circle cx="551.00" cy="791.00" r="4.8" fill="#000" stroke="none"/>
<circle cx="546.00" cy="790.50" r="4.8" fill="#000" stroke="none"/>
<circle cx="541.00" cy="790.00" r="4.8" fill="#000" stroke="none"/>
<circle cx="536.00" cy="794.50" r="4.8" fill="#000" stroke="none"/>
<circle cx="523.00" cy="795.50" r="4.8" fill="#000" stroke="none"/>
<line x1="986.90" y1="568.80" x2="986.90" y2="796.50" stroke-width="2.3"/>
<line x1="978.90" y1="795.50" x2="1327.50" y2="795.50" stroke-width="2.2"/>
<line x1="978.90" y1="568.70" x2="986.90" y2="568.70" stroke-width="2.3"/>
<line x1="978.90" y1="625.42" x2="986.90" y2="625.42" stroke-width="2.3"/>
<line x1="978.90" y1="682.15" x2="986.90" y2="682.15" stroke-width="2.3"/>
<line x1="978.90" y1="738.88" x2="986.90" y2="738.88" stroke-width="2.3"/>
<line x1="1100.40" y1="795.50" x2="1100.40" y2="801.50" stroke-width="2.3"/>
<line x1="1213.60" y1="795.50" x2="1213.60" y2="801.50" stroke-width="2.3"/>
<line x1="1327.40" y1="795.50" x2="1327.40" y2="801.50" stroke-width="2.3"/>
<line x1="988.50" y1="792.60" x2="1294.20" y2="788.60" stroke-width="2.0"/>
<circle cx="1028.80" cy="790.80" r="1.65" fill="#000" stroke="none"/>
<circle cx="1039.00" cy="790.24" r="1.65" fill="#000" stroke="none"/>
<circle cx="1049.20" cy="789.69" r="1.65" fill="#000" stroke="none"/>
<circle cx="1059.40" cy="789.13" r="1.65" fill="#000" stroke="none"/>
<circle cx="1069.60" cy="788.57" r="1.65" fill="#000" stroke="none"/>
<circle cx="1079.80" cy="788.02" r="1.65" fill="#000" stroke="none"/>
<circle cx="1090.00" cy="787.46" r="1.65" fill="#000" stroke="none"/>
<circle cx="1100.20" cy="786.90" r="1.65" fill="#000" stroke="none"/>
<circle cx="1110.40" cy="786.34" r="1.65" fill="#000" stroke="none"/>
<circle cx="1120.60" cy="785.79" r="1.65" fill="#000" stroke="none"/>
<circle cx="1130.80" cy="785.23" r="1.65" fill="#000" stroke="none"/>
<circle cx="1141.00" cy="784.67" r="1.65" fill="#000" stroke="none"/>
<circle cx="1151.20" cy="784.12" r="1.65" fill="#000" stroke="none"/>
<circle cx="1161.40" cy="783.56" r="1.65" fill="#000" stroke="none"/>
<circle cx="1171.60" cy="783.00" r="1.65" fill="#000" stroke="none"/>
<circle cx="1181.80" cy="782.45" r="1.65" fill="#000" stroke="none"/>
<circle cx="1192.00" cy="781.89" r="1.65" fill="#000" stroke="none"/>
<circle cx="1202.20" cy="781.33" r="1.65" fill="#000" stroke="none"/>
<circle cx="1212.40" cy="780.78" r="1.65" fill="#000" stroke="none"/>
<circle cx="1222.60" cy="780.22" r="1.65" fill="#000" stroke="none"/>
<circle cx="1232.80" cy="779.66" r="1.65" fill="#000" stroke="none"/>
<circle cx="1243.00" cy="779.10" r="1.65" fill="#000" stroke="none"/>
<circle cx="1253.20" cy="778.55" r="1.65" fill="#000" stroke="none"/>
<circle cx="1263.40" cy="777.99" r="1.65" fill="#000" stroke="none"/>
<circle cx="1273.60" cy="777.43" r="1.65" fill="#000" stroke="none"/>
<circle cx="1283.80" cy="776.88" r="1.65" fill="#000" stroke="none"/>
<circle cx="1004.50" cy="753.00" r="4.8" fill="#000" stroke="none"/>
<circle cx="1046.90" cy="785.50" r="4.8" fill="#000" stroke="none"/>
<circle cx="1050.20" cy="794.50" r="4.8" fill="#000" stroke="none"/>
<circle cx="1066.50" cy="787.20" r="4.8" fill="#000" stroke="none"/>
<circle cx="1065.70" cy="795.30" r="4.8" fill="#000" stroke="none"/>
<circle cx="1077.20" cy="784.70" r="4.8" fill="#000" stroke="none"/>
<circle cx="1296.80" cy="793.20" r="4.8" fill="#000" stroke="none"/>
<circle cx="989.00" cy="792.30" r="4.7" fill="#000" stroke="none"/>
<circle cx="989.00" cy="796.20" r="4.7" fill="#000" stroke="none"/>
<circle cx="994.00" cy="792.30" r="4.7" fill="#000" stroke="none"/>
<circle cx="994.00" cy="796.20" r="4.7" fill="#000" stroke="none"/>
<circle cx="999.00" cy="792.30" r="4.7" fill="#000" stroke="none"/>
<circle cx="999.00" cy="796.20" r="4.7" fill="#000" stroke="none"/>
<circle cx="1004.00" cy="792.30" r="4.7" fill="#000" stroke="none"/>
<circle cx="1004.00" cy="796.20" r="4.7" fill="#000" stroke="none"/>
<circle cx="1009.00" cy="792.30" r="4.7" fill="#000" stroke="none"/>
<circle cx="1009.00" cy="796.20" r="4.7" fill="#000" stroke="none"/>
<circle cx="1014.00" cy="792.30" r="4.7" fill="#000" stroke="none"/>
<circle cx="1014.00" cy="796.20" r="4.7" fill="#000" stroke="none"/>
<path d="M985.50 790.80L990.00 795.30L985.50 799.80L981.00 795.30Z" fill="#000" stroke-width="2.4" stroke-linejoin="miter"/>
</g>
<g>
<text font-size="17.324" font-weight="bold" style="stroke-width:0.0px" transform="translate(38.70 89.28) scale(0.9625 1)">2000</text>
<text font-size="17.324" font-weight="bold" style="stroke-width:0.0px" transform="translate(38.70 167.48) scale(0.9625 1)">1500</text>
<text font-size="17.324" font-weight="bold" style="stroke-width:0.0px" transform="translate(38.70 245.68) scale(0.9625 1)">1000</text>
<text font-size="17.324" font-weight="bold" style="stroke-width:0.0px" transform="translate(48.20 323.88) scale(0.9540 1)">500</text>
<text font-size="17.324" font-weight="bold" style="stroke-width:0.0px" transform="translate(67.20 402.08) scale(0.8945 1)">0</text>
<text font-size="20.290" font-weight="bold" transform="translate(106.10 448.40) rotate(-90) scale(0.9121 1)">RMA</text>
<text font-size="20.290" font-weight="bold" transform="translate(136.78 448.40) rotate(-90) scale(0.9347 1)">RME</text>
<text font-size="19.718" font-weight="bold" transform="translate(167.26 458.80) rotate(-90) scale(0.9595 1)">BLCA</text>
<text font-size="19.718" font-weight="bold" transform="translate(197.94 460.90) rotate(-90) scale(0.9402 1)">COAD</text>
<text font-size="19.718" font-weight="bold" transform="translate(228.62 458.80) rotate(-90) scale(0.9577 1)">ESCA</text>
<text font-size="19.718" font-weight="bold" transform="translate(259.30 460.10) rotate(-90) scale(0.9624 1)">HNSC</text>
<text font-size="20.000" font-weight="bold" transform="translate(289.98 458.80) rotate(-90) scale(0.9459 1)">LUAD</text>
<text font-size="19.718" font-weight="bold" transform="translate(320.66 458.80) rotate(-90) scale(0.9789 1)">LUSC</text>
<text font-size="20.290" font-weight="bold" transform="translate(351.54 446.30) rotate(-90) scale(0.9343 1)">MEL</text>
<text font-size="19.718" font-weight="bold" transform="translate(382.02 431.50) rotate(-90) scale(0.8844 1)">OV</text>
<text font-size="19.718" font-weight="bold" transform="translate(412.70 458.30) rotate(-90) scale(0.9951 1)">STAD</text>
<text font-size="33.797" font-weight="bold" transform="translate(0.00 25.50) scale(0.9095 1)">(a)</text>
<text font-size="34.930" font-weight="bold" transform="translate(210.40 37.45) scale(0.9319 1)">CD3</text>
<text font-size="19.329" font-weight="bold" transform="translate(26.91 287.80) rotate(-90) scale(0.9545 1)">cells / mm</text>
<text font-size="15.143" font-weight="bold" transform="translate(18.50 200.30) rotate(-90) scale(0.7377 1)">2</text>
<text font-size="17.324" font-weight="bold" style="stroke-width:0.0px" transform="translate(479.20 89.28) scale(0.9625 1)">2000</text>
<text font-size="17.324" font-weight="bold" style="stroke-width:0.0px" transform="translate(479.20 167.48) scale(0.9625 1)">1500</text>
<text font-size="17.324" font-weight="bold" style="stroke-width:0.0px" transform="translate(479.20 245.68) scale(0.9625 1)">1000</text>
<text font-size="17.324" font-weight="bold" style="stroke-width:0.0px" transform="translate(488.70 323.88) scale(0.9540 1)">500</text>
<text font-size="17.324" font-weight="bold" style="stroke-width:0.0px" transform="translate(507.70 402.08) scale(0.8945 1)">0</text>
<text font-size="20.290" font-weight="bold" transform="translate(546.80 448.40) rotate(-90) scale(0.9121 1)">RMA</text>
<text font-size="20.290" font-weight="bold" transform="translate(577.58 448.40) rotate(-90) scale(0.9347 1)">RME</text>
<text font-size="19.718" font-weight="bold" transform="translate(608.16 458.80) rotate(-90) scale(0.9595 1)">BLCA</text>
<text font-size="19.718" font-weight="bold" transform="translate(638.94 460.90) rotate(-90) scale(0.9402 1)">COAD</text>
<text font-size="19.718" font-weight="bold" transform="translate(669.72 458.80) rotate(-90) scale(0.9577 1)">ESCA</text>
<text font-size="19.718" font-weight="bold" transform="translate(700.50 460.10) rotate(-90) scale(0.9624 1)">HNSC</text>
<text font-size="20.000" font-weight="bold" transform="translate(731.28 458.80) rotate(-90) scale(0.9459 1)">LUAD</text>
<text font-size="19.718" font-weight="bold" transform="translate(762.06 458.80) rotate(-90) scale(0.9789 1)">LUSC</text>
<text font-size="20.290" font-weight="bold" transform="translate(793.04 446.30) rotate(-90) scale(0.9343 1)">MEL</text>
<text font-size="19.718" font-weight="bold" transform="translate(823.62 431.50) rotate(-90) scale(0.8844 1)">OV</text>
<text font-size="19.718" font-weight="bold" transform="translate(854.40 458.30) rotate(-90) scale(0.9951 1)">STAD</text>
<text font-size="34.930" font-weight="bold" transform="translate(668.40 37.45) scale(0.9319 1)">CD8</text>
<text font-size="19.329" font-weight="bold" transform="translate(469.41 287.80) rotate(-90) scale(0.9545 1)">cells / mm</text>
<text font-size="15.143" font-weight="bold" transform="translate(461.00 200.30) rotate(-90) scale(0.7377 1)">2</text>
<text font-size="17.324" font-weight="bold" style="stroke-width:0.0px" transform="translate(950.10 134.78) scale(0.9540 1)">600</text>
<text font-size="17.324" font-weight="bold" style="stroke-width:0.0px" transform="translate(950.10 223.88) scale(0.9540 1)">400</text>
<text font-size="17.324" font-weight="bold" style="stroke-width:0.0px" transform="translate(950.10 312.98) scale(0.9540 1)">200</text>
<text font-size="17.324" font-weight="bold" style="stroke-width:0.0px" transform="translate(969.10 402.08) scale(0.8945 1)">0</text>
<text font-size="20.290" font-weight="bold" transform="translate(1008.10 448.40) rotate(-90) scale(0.9121 1)">RMA</text>
<text font-size="20.290" font-weight="bold" transform="translate(1038.90 448.40) rotate(-90) scale(0.9347 1)">RME</text>
<text font-size="19.718" font-weight="bold" transform="translate(1069.50 458.80) rotate(-90) scale(0.9595 1)">BLCA</text>
<text font-size="19.718" font-weight="bold" transform="translate(1100.30 460.90) rotate(-90) scale(0.9402 1)">COAD</text>
<text font-size="19.718" font-weight="bold" transform="translate(1131.10 458.80) rotate(-90) scale(0.9577 1)">ESCA</text>
<text font-size="19.718" font-weight="bold" transform="translate(1161.90 460.10) rotate(-90) scale(0.9624 1)">HNSC</text>
<text font-size="20.000" font-weight="bold" transform="translate(1192.70 458.80) rotate(-90) scale(0.9459 1)">LUAD</text>
<text font-size="19.718" font-weight="bold" transform="translate(1223.50 458.80) rotate(-90) scale(0.9789 1)">LUSC</text>
<text font-size="20.290" font-weight="bold" transform="translate(1254.50 446.30) rotate(-90) scale(0.9343 1)">MEL</text>
<text font-size="19.718" font-weight="bold" transform="translate(1285.10 431.50) rotate(-90) scale(0.8844 1)">OV</text>
<text font-size="19.718" font-weight="bold" transform="translate(1315.90 458.30) rotate(-90) scale(0.9951 1)">STAD</text>
<text font-size="35.352" font-weight="bold" transform="translate(1127.10 37.45) scale(0.9288 1)">FOXP3</text>
<text font-size="19.329" font-weight="bold" transform="translate(940.11 287.80) rotate(-90) scale(0.9545 1)">cells / mm</text>
<text font-size="15.143" font-weight="bold" transform="translate(931.70 200.30) rotate(-90) scale(0.7377 1)">2</text>
<text font-size="17.324" font-weight="bold" style="stroke-width:0.0px" transform="translate(38.40 572.68) scale(0.9625 1)">1500</text>
<text font-size="17.324" font-weight="bold" style="stroke-width:0.0px" transform="translate(38.40 648.28) scale(0.9625 1)">1000</text>
<text font-size="17.324" font-weight="bold" style="stroke-width:0.0px" transform="translate(47.90 723.88) scale(0.9540 1)">500</text>
<text font-size="17.324" font-weight="bold" style="stroke-width:0.0px" transform="translate(66.90 799.48) scale(0.8945 1)">0</text>
<text font-size="33.904" font-weight="bold" transform="translate(0.00 530.88) scale(0.8999 1)">(b)</text>
<text font-size="19.329" font-weight="bold" transform="translate(34.81 727.60) rotate(-90) scale(0.9459 1)">cells / mm</text>
<text font-size="15.143" font-weight="bold" transform="translate(26.60 641.00) rotate(-90) scale(0.7377 1)">2</text>
<text font-size="19.037" font-weight="bold" transform="translate(118.90 901.00) rotate(-90) scale(0.9852 1)">CD3 (RMA)</text>
<text font-size="19.037" font-weight="bold" transform="translate(175.30 901.00) rotate(-90) scale(0.9956 1)">CD3 (RME)</text>
<text font-size="19.037" font-weight="bold" transform="translate(231.50 901.00) rotate(-90) scale(0.9852 1)">CD8 (RMA)</text>
<text font-size="19.037" font-weight="bold" transform="translate(287.90 901.00) rotate(-90) scale(0.9956 1)">CD8 (RME)</text>
<text font-size="19.037" font-weight="bold" transform="translate(344.30 923.80) rotate(-90) scale(0.9754 1)">FOXP3 (RMA)</text>
<text font-size="19.037" font-weight="bold" transform="translate(400.90 923.80) rotate(-90) scale(0.9837 1)">FOXP3 (RME)</text>
<text font-size="16.620" font-weight="bold" style="stroke-width:0.0px" transform="translate(489.00 572.53) scale(0.9944 1)">800</text>
<text font-size="16.620" font-weight="bold" style="stroke-width:0.0px" transform="translate(489.00 629.26) scale(0.9944 1)">600</text>
<text font-size="16.620" font-weight="bold" style="stroke-width:0.0px" transform="translate(489.00 685.98) scale(0.9944 1)">400</text>
<text font-size="16.620" font-weight="bold" style="stroke-width:0.0px" transform="translate(489.00 742.71) scale(0.9944 1)">200</text>
<text font-size="16.620" font-weight="bold" style="stroke-width:0.0px" transform="translate(508.00 799.43) scale(0.9324 1)">0</text>
<text font-size="17.606" font-weight="bold" style="stroke-width:0.0px" transform="translate(521.90 819.12) scale(0.8494 1)">0</text>
<text font-size="17.606" font-weight="bold" style="stroke-width:0.0px" transform="translate(625.50 819.12) scale(0.9387 1)">500</text>
<text font-size="17.606" font-weight="bold" style="stroke-width:0.0px" transform="translate(734.10 819.12) scale(0.9394 1)">1000</text>
<text font-size="17.606" font-weight="bold" style="stroke-width:0.0px" transform="translate(847.60 819.12) scale(0.9343 1)">1500</text>
<text font-size="33.904" font-weight="bold" transform="translate(451.40 530.88) scale(0.8945 1)">(c)</text>
<text font-size="25.070" font-weight="normal" style="stroke-width:1.0px" transform="translate(633.90 540.65) scale(0.8875 1)">CD3 vs CD8</text>
<text font-size="19.572" font-weight="bold" transform="translate(476.69 755.70) rotate(-90) scale(0.9525 1)">CD8 [cells / mm</text>
<text font-size="14.571" font-weight="bold" transform="translate(468.10 618.30) rotate(-90) scale(0.7790 1)">2</text>
<text font-size="15.615" font-weight="bold" transform="translate(469.22 609.60) rotate(-90) scale(0.6500 1)">]</text>
<text font-size="19.251" font-weight="normal" style="stroke-width:1.0px" transform="translate(619.90 849.76) scale(1.0197 1)">CD3 [cells / mm</text>
<text font-size="13.000" font-weight="normal" style="stroke-width:1.0px" transform="translate(759.00 841.50) scale(0.8593 1)">2</text>
<text font-size="19.251" font-weight="normal" style="stroke-width:1.0px" transform="translate(765.20 849.96) scale(1.1316 1)">]</text>
<text font-size="19.231" font-weight="normal" style="stroke-width:1.0px" transform="translate(762.40 733.26) scale(0.9593 1)">p - &lt;0.0001</text>
<text font-size="16.620" font-weight="bold" style="stroke-width:0.0px" transform="translate(950.10 572.53) scale(0.9944 1)">800</text>
<text font-size="16.620" font-weight="bold" style="stroke-width:0.0px" transform="translate(950.10 629.26) scale(0.9944 1)">600</text>
<text font-size="16.620" font-weight="bold" style="stroke-width:0.0px" transform="translate(950.10 685.98) scale(0.9944 1)">400</text>
<text font-size="16.620" font-weight="bold" style="stroke-width:0.0px" transform="translate(950.10 742.71) scale(0.9944 1)">200</text>
<text font-size="16.620" font-weight="bold" style="stroke-width:0.0px" transform="translate(969.10 799.43) scale(0.9324 1)">0</text>
<text font-size="17.606" font-weight="bold" style="stroke-width:0.0px" transform="translate(982.70 819.12) scale(0.8392 1)">0</text>
<text font-size="17.606" font-weight="bold" style="stroke-width:0.0px" transform="translate(1086.20 819.12) scale(0.9387 1)">500</text>
<text font-size="17.606" font-weight="bold" style="stroke-width:0.0px" transform="translate(1195.10 819.12) scale(0.9292 1)">1000</text>
<text font-size="17.606" font-weight="bold" style="stroke-width:0.0px" transform="translate(1308.70 819.12) scale(0.9114 1)">1500</text>
<text font-size="33.904" font-weight="bold" transform="translate(914.70 530.88) scale(0.9022 1)">(d)</text>
<text font-size="24.789" font-weight="normal" style="stroke-width:1.0px" transform="translate(1081.70 540.15) scale(0.8942 1)">CD3 vs FOXP3</text>
<text font-size="18.503" font-weight="bold" transform="translate(937.01 768.60) rotate(-90) scale(0.9979 1)">FOXP3 [cells / mm</text>
<text font-size="14.571" font-weight="bold" transform="translate(929.00 607.50) rotate(-90) scale(0.7296 1)">2</text>
<text font-size="18.503" font-weight="bold" transform="translate(937.01 599.40) rotate(-90) scale(0.8712 1)">]</text>
<text font-size="19.251" font-weight="normal" style="stroke-width:1.0px" transform="translate(1081.10 849.76) scale(1.0153 1)">CD3 [cells / mm</text>
<text font-size="13.000" font-weight="normal" style="stroke-width:1.0px" transform="translate(1220.00 841.50) scale(0.8316 1)">2</text>
<text font-size="19.251" font-weight="normal" style="stroke-width:1.0px" transform="translate(1226.40 849.96) scale(1.0389 1)">]</text>
</g>
</svg></div>
</body></html>
